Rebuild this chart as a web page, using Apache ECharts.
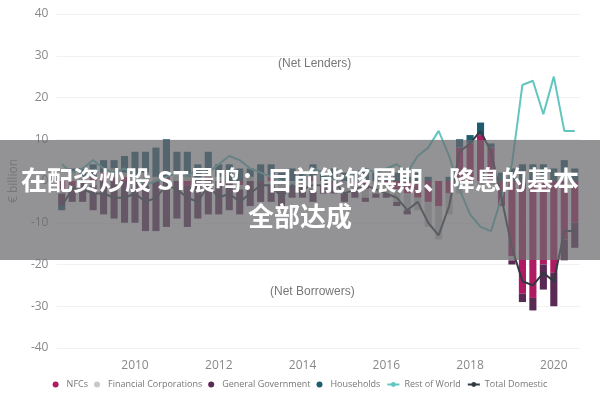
<!DOCTYPE html>
<html>
<head>
<meta charset="utf-8">
<script src="https://cdn.jsdelivr.net/npm/echarts@6/dist/echarts.min.js"></script>
<style>html,body{margin:0;padding:0;background:#fff;}#chart{width:600px;height:400px;}</style>
</head>
<body>
<div id="chart"></div>
<script>
// 季度数据 2008Q2 - 2020Q3
var quarters = [];
for (var y = 2008; y <= 2020; y++) {
    for (var q = 1; q <= 4; q++) {
        if ((y === 2008 && q < 2) || (y === 2020 && q > 3)) continue;
        quarters.push(y + 'Q' + q);
    }
}
var nfc = [-2,-1,0, 1,2,1,1, 0,-1,0,1, 0,-1,0,1, 0,0,-1,0, 0,1,0,0, 0,1,0,-1, 0,-1,-2,0,
    -1,-2,-3,-4, -5,-6,-3,8, 9,11,8,-6, -18,-27,-28,-20, -22,-14,-10];
var finCorp = [-1,2,1, -1,0,2,1, 1,2,1,0, 2,1,0,1, 1,0,-1,1, 0,-1,-2,-1, -1,-2,-1,0, -3,-1,-2,-3,
    -2,-3,-4,-3, -6,-8,-5,-3, -2,-1,-1,0, -1,0,0,1, 0,1,0];
var govt = [-3,-4,-5, -6,-8,-9,-10, -10,-11,-12,-11, -9,-10,-9,-8, -8,-7,-6,-6, -5,-4,-4,-3,
    -3,-3,-2,-2, -2,-2,-1,-1, -1,-1,-1,0, 0,0,0,0, 0,0,0,0, -1,-2,-3,-6, -8,-5,-6];
var households = [-1,1,2, 3,3,2,4, 6,5,7,9, 5,6,4,5, 3,4,3,2, 4,3,2,3, 2,3,2,3, 2,2,3,2,
    1,2,1,2, 1,0,1,2, 2,3,1,2, 3,4,4,3, 3,4,3];
var restOfWorld = [4,2,3, 5,3,2,3, 1,-1,0,1, 2,1,3,2, 4,6,5,3, 2,1,0,-1, 1,3,2,0, 1,2,3,2,
    3,4,2,6, 8,12,6,-2, -8,-11,-12,-4, 4,23,24,16, 25,12,12];
var totalDomestic = [-6,-2,-2, -3,-3,-4,-4, -3,-5,-4,-1, -2,-4,-5,-1, -4,-3,-5,-3, -1,-1,-4,-1,
    -2,-1,-1,0, -3,-2,-1,-2, -3,-4,-7,-5, -10,-13,-6,7, 9,12,7,-4, -16,-24,-25,-22, -24,-12,-12];
var yTicks = [-40, 40, 10];

var chart = echarts.init(document.getElementById('chart'));
var barStyle = function (name, data, color) {
    return { name: name, type: 'bar', stack: 'sector', data: data, barWidth: '68%',
        itemStyle: { color: color } };
};
var option = {
    animation: false,
    textStyle: { fontFamily: 'Open Sans, Noto Sans, sans-serif' },
    grid: { left: 48, right: 20, top: 14, bottom: 52 },
    legend: {
        bottom: 6, left: 'center', itemGap: 6, itemWidth: 12, itemHeight: 6,
        textStyle: { color: '#777', fontSize: 9 },
        data: [
            { name: 'NFCs', icon: 'circle' },
            { name: 'Financial Corporations', icon: 'circle' },
            { name: 'General Government', icon: 'circle' },
            { name: 'Households', icon: 'circle' },
            { name: 'Rest of World' },
            { name: 'Total Domestic' }
        ]
    },
    xAxis: {
        type: 'category', data: quarters,
        axisLine: { show: false }, axisTick: { show: false },
        axisLabel: {
            color: '#888', fontSize: 12, margin: 12,
            interval: function (i, v) { return v.slice(4) === 'Q1' && (+v.slice(0, 4)) % 2 === 0; },
            formatter: function (v) { return v.slice(0, 4); }
        }
    },
    yAxis: {
        type: 'value', min: yTicks[0], max: yTicks[1], interval: yTicks[2],
        name: '€ billion', nameLocation: 'middle', nameGap: 34,
        nameTextStyle: { color: '#999', fontSize: 12 },
        axisLabel: { color: '#888', fontSize: 12 },
        splitLine: { lineStyle: { color: '#f2f2f2' } }
    },
    series: [
        barStyle('NFCs', nfc, '#b01a62'),
        barStyle('Financial Corporations', finCorp, '#c9c9c9'),
        barStyle('General Government', govt, '#5a2a55'),
        barStyle('Households', households, '#1f5c70'),
        { name: 'Rest of World', type: 'line', data: restOfWorld, symbol: 'none',
            lineStyle: { color: '#62c6bf', width: 2 }, itemStyle: { color: '#62c6bf' } },
        { name: 'Total Domestic', type: 'line', data: totalDomestic, symbol: 'none',
            lineStyle: { color: '#2f3b40', width: 2 }, itemStyle: { color: '#2f3b40' } }
    ],
    graphic: [
        { type: 'text', left: 278, top: 58, style: { text: '(Net Lenders)', fill: '#777', fontSize: 12 } },
        { type: 'text', left: 270, top: 286, style: { text: '(Net Borrowers)', fill: '#777', fontSize: 12 } },
        { type: 'rect', left: 0, top: 140, z: 100, shape: { width: 600, height: 120 },
            style: { fill: 'rgba(105,105,110,0.72)' } },
        { type: 'text', left: 'center', top: 167, z: 101,
            style: { text: '在配资炒股 ST晨鸣：目前能够展期、降息的基本', fill: '#fff',
                font: 'bold 26px "Noto Sans CJK SC"' } },
        { type: 'text', left: 'center', top: 203, z: 101,
            style: { text: '全部达成', fill: '#fff', font: 'bold 26px "Noto Sans CJK SC"' } }
    ]
};
chart.setOption(option);
</script>
</body>
</html>
